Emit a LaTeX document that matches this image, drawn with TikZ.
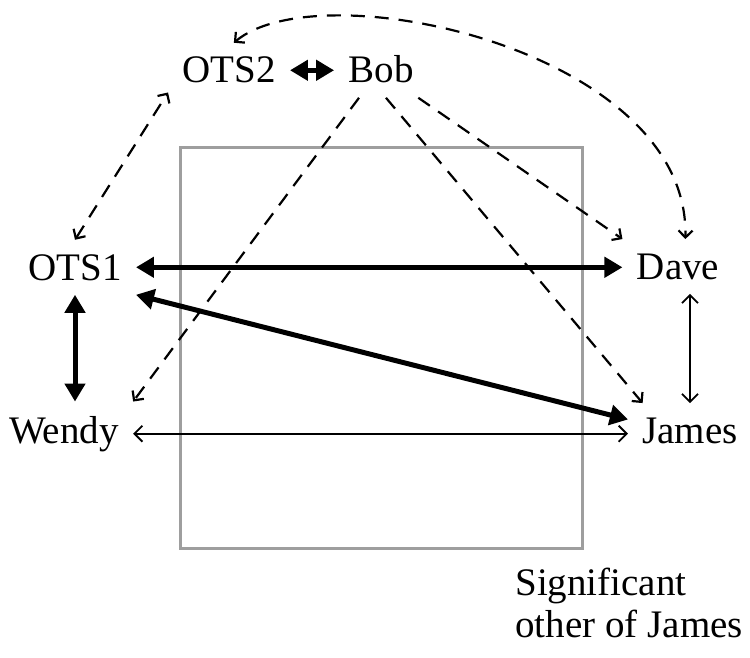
\documentclass[tikz,border=0pt]{standalone}
\usepackage{fontspec}
\setmainfont{Liberation Serif}
\usetikzlibrary{arrows.meta}
\definecolor{boxgray}{gray}{0.62}
\tikzset{
  person/.style={inner sep=7pt, anchor=base, font=\fontsize{19.5}{21}\selectfont},
  strong/.style={line width=2.5pt, >={Triangle[length=9pt,width=10pt]}},
  weak/.style={line width=0.9pt, >={Straight Barb[length=4pt,width=8pt]}},
  guess/.style={line width=1.1pt, dash pattern=on 7pt off 5pt, >={Straight Barb[length=3.5pt,width=7pt]}},
}
\begin{document}
\begin{tikzpicture}[x=0.5pt,y=-0.5pt]
\useasboundingbox (0,0) rectangle (750,658);
\draw[boxgray, line width=1.5pt] (180,148) rectangle (582,548);

\node[person] (ots2) at (229,83) {OTS2};
\node[person] (bob) at (381,83) {Bob};
\node[person] (ots1) at (75,280) {OTS1};
\node[person] (dave) at (678,279) {Dave};
\node[person] (wendy) at (64,443) {Wendy};
\node[person] (james) at (690,443) {James};
\node[font=\fontsize{19.5}{21}\selectfont, align=left, anchor=north west, inner sep=0pt] (note) at (515,568) {Significant\\other of James};

\draw[strong,<->] (ots2.east) -- (ots2.east -| bob.west);
\draw[strong,<->] (ots1.east) -- (ots1.east -| dave.west);
\draw[strong,<->] (james.170) -- (ots1.south east);
\draw[strong,<->] (ots1.south) -- (ots1.south |- wendy.north);
\draw[weak,<->] (james.north) -- (james.north |- dave.south);
\draw[weak,<->] (wendy.east) -- (wendy.east -| james.west);

\draw[guess,->] (bob.232) -- (wendy.north east);
\draw[guess,->] (bob.280) -- (james.150);
\draw[guess,->] (bob.323) -- (dave.north west);
\draw[guess,<->] (ots1.north) -- (ots2.200);
\draw[guess,<->] (ots2.80) .. controls (320,-30) and (690,50) .. (dave.75);
\end{tikzpicture}
\end{document}
